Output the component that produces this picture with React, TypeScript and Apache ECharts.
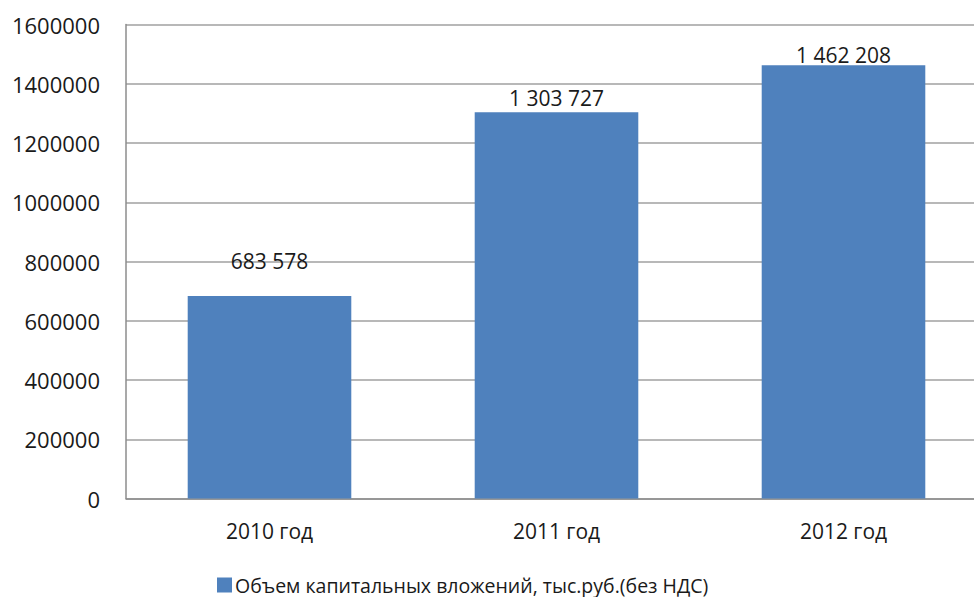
import React, { useEffect, useRef } from "react";
import * as echarts from "echarts";

const categories = ["2010 год", "2011 год", "2012 год"];
const values = [683578, 1303727, 1462208];
const labelTexts = ["683 578", "1 303 727", "1 462 208"];
const labelDistances = [24, 4, 0];
const seriesName = "Объем капитальных вложений, тыс.руб.(без НДС)";

const FONT = "'Open Sans', 'Noto Sans', sans-serif";

export default function App() {
  const ref = useRef<HTMLDivElement>(null);
  useEffect(() => {
    const chart = echarts.init(ref.current!, null, { renderer: "svg" });
    chart.setOption({
      animation: false,
      backgroundColor: "#ffffff",
      textStyle: { fontFamily: FONT },
      grid: { left: 126, right: 3, top: 24.5, bottom: 98.5, containLabel: false },
      legend: {
        left: 217,
        top: 575,
        padding: 0,
        itemWidth: 15,
        itemHeight: 15,
        icon: "rect",
        textStyle: {
          fontFamily: FONT,
          fontSize: 19.5,
          lineHeight: 20,
          color: "#1a1a1a",
          padding: [0, 0, 0, -2],
        },
        data: [seriesName],
      },
      xAxis: {
        type: "category",
        data: categories,
        axisLine: { show: true, lineStyle: { color: "#8c8c8c", width: 1.5 } },
        axisTick: { show: false },
        axisLabel: { color: "#1a1a1a", fontSize: 21, fontFamily: FONT, margin: 22 },
      },
      yAxis: {
        type: "value",
        min: 0,
        max: 1600000,
        interval: 200000,
        axisLine: { show: true, lineStyle: { color: "#8c8c8c", width: 1.5 } },
        axisTick: { show: false },
        splitLine: { show: true, lineStyle: { color: "#a0a0a0", width: 1.5 } },
        axisLabel: {
          color: "#1a1a1a",
          fontSize: 22,
          fontFamily: FONT,
          margin: 26,
          formatter: (v: number) => String(v),
        },
      },
      series: [
        {
          name: seriesName,
          type: "bar",
          barCategoryGap: "43%",
          itemStyle: { color: "#4F81BD" },
          data: values.map((v, i) => ({
            value: v,
            label: {
              show: true,
              position: "top",
              distance: labelDistances[i],
              formatter: () => labelTexts[i],
              fontSize: 21,
              fontFamily: FONT,
              color: "#1a1a1a",
            },
          })),
        },
      ],
    });
    return () => chart.dispose();
  }, []);
  return (
    <div style={{ position: "fixed", left: 0, top: 0, width: 974, height: 597, overflow: "hidden" }}>
      <div ref={ref} style={{ width: 990, height: 597 }} />
    </div>
  );
}
